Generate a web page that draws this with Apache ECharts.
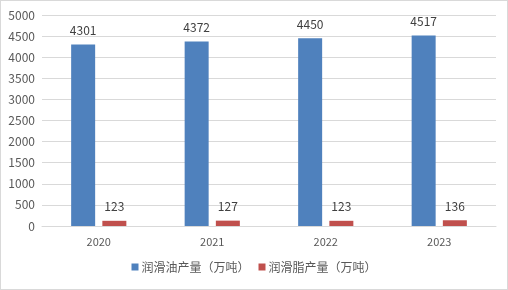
<!DOCTYPE html>
<html><head><meta charset="utf-8">
<script src="https://cdn.jsdelivr.net/npm/echarts@6/dist/echarts.min.js"></script>
<style>
html,body{margin:0;padding:0;background:#fff;}
#c{width:508px;height:290px;box-sizing:border-box;border:1px solid #d9d9d9;}
</style></head>
<body><div id="c"></div>
<script>
const categories = ['2020','2021','2022','2023'];
const oilValues = [4301,4372,4450,4517];
const greaseValues = [123,127,123,136];
const seriesNames = ['润滑油产量（万吨）','润滑脂产量（万吨）'];
const yTicks = {min:0,max:5000,interval:500};

const chart = echarts.init(document.getElementById('c'));
const font = '"Microsoft YaHei","Noto Sans CJK SC",sans-serif';
chart.setOption({
  animation:false,
  textStyle:{fontFamily:font},
  grid:{left:41,right:11,top:14,bottom:63},
  legend:{bottom:11,left:'center',itemWidth:7,itemHeight:7,itemGap:9,icon:'rect',
    textStyle:{color:'#595959',fontSize:12,fontFamily:font,padding:[0,0,0,-2]},data:seriesNames},
  xAxis:{type:'category',data:categories,
    axisLine:{lineStyle:{color:'#d9d9d9'}},axisTick:{show:false},
    axisLabel:{color:'#595959',fontSize:11,margin:10}},
  yAxis:{type:'value',min:yTicks.min,max:yTicks.max,interval:yTicks.interval,
    axisLine:{show:false},axisTick:{show:false},
    splitLine:{lineStyle:{color:'#d9d9d9'}},
    axisLabel:{color:'#595959',fontSize:12,margin:7,formatter:v=>String(v)}},
  series:[
    {name:seriesNames[0],type:'bar',data:oilValues,barWidth:24,barGap:'30%',
     itemStyle:{color:'#4f81bd'},
     label:{show:true,position:'top',distance:8,color:'#404040',fontSize:12}},
    {name:seriesNames[1],type:'bar',data:greaseValues,barWidth:24,
     itemStyle:{color:'#c0504d'},
     label:{show:true,position:'top',distance:8,color:'#404040',fontSize:12}}
  ]
});
</script></body></html>
